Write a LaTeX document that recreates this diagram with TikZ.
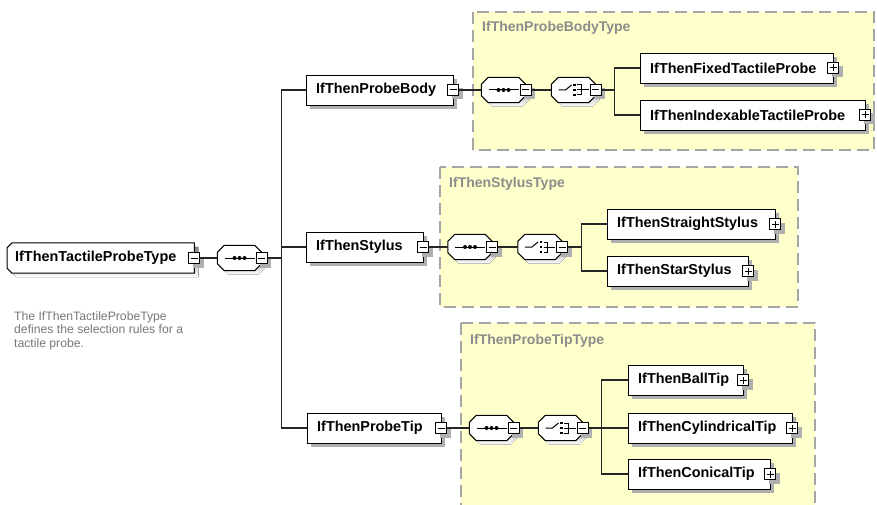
\documentclass[tikz,border=0pt]{standalone}
\usepackage{fontspec}
\setmainfont{Liberation Sans}
\usetikzlibrary{shadows,positioning}

\definecolor{grpfill}{RGB}{255,255,204}
\definecolor{grpline}{RGB}{165,165,165}
\definecolor{shade}{RGB}{175,175,175}
\definecolor{titlegrey}{RGB}{140,140,140}
\definecolor{docgrey}{RGB}{120,120,120}

\pgfdeclarelayer{paper}
\pgfdeclarelayer{grp}
\pgfdeclarelayer{shape}
\pgfsetlayers{paper,grp,shape,main}

% chamfered outline round a node: node, x shift, y shift, left chamfer, right chamfer
\newcommand\chamfpath[5]{%
  ([xshift=#2+#4,yshift=#3]#1.north west) -- ([xshift=#2-#5,yshift=#3]#1.north east)
  -- ([xshift=#2,yshift=#3-#5]#1.north east) -- ([xshift=#2,yshift=#3+#5]#1.south east)
  -- ([xshift=#2-#5,yshift=#3]#1.south east) -- ([xshift=#2+#4,yshift=#3]#1.south west)
  -- ([xshift=#2,yshift=#3+#4]#1.south west) -- ([xshift=#2,yshift=#3-#4]#1.north west) -- cycle}

% shadow, fill and border of a chamfered box
\newcommand\drawchamf[3]{%
  \begin{pgfonlayer}{shape}
    \fill[shade] \chamfpath{#1}{4pt}{-4pt}{#2}{#3};
    \filldraw[fill=white, draw=black, line width=1pt] \chamfpath{#1}{0pt}{0pt}{#2}{#3};
  \end{pgfonlayer}}

% compositor glyphs
\newcommand\seqglyph[1]{%
  \drawchamf{#1}{7pt}{7pt}
  \draw[line width=1pt] ([xshift=-15pt]#1.center) -- ([xshift=15pt]#1.center);
  \foreach \dx in {-5,0,5}
    \fill ([xshift=\dx pt]#1.center) circle (2pt);}
\newcommand\choiceglyph[1]{%
  \drawchamf{#1}{7pt}{7pt}
  \draw[line width=1pt] ([xshift=-15pt]#1.center) -- ([xshift=-8pt]#1.center)
    -- ([xshift=-2pt,yshift=5pt]#1.center);
  \foreach \dy in {-5,0,5}
    \fill ([xshift=-0.5pt,yshift=\dy pt-1.25pt]#1.center) rectangle ++(2.5pt,2.5pt);
  \draw[line width=1pt] ([xshift=3.5pt,yshift=5pt]#1.center) -- ++(4pt,0) -- ++(0,-10pt) -- ++(-4pt,0);
  \draw[line width=1pt] ([xshift=3.5pt]#1.center) -- ([xshift=15pt]#1.center);}

\tikzset{
  shadowed/.style={drop shadow={shadow xshift=4pt, shadow yshift=-4pt, fill=shade, opacity=1}},
  elem/.style={draw, fill=white, shadowed, minimum height=30, inner xsep=10, inner ysep=0,
    align=left, anchor=west, font=\fontsize{14.4}{16}\selectfont\bfseries},
  rootelem/.style={minimum height=30, inner xsep=8, inner ysep=0, align=left, anchor=west,
    font=\fontsize{14.4}{16}\selectfont\bfseries},
  btn/.style={draw, fill=white, shadowed, minimum size=11, inner sep=0, line width=1pt},
  minus/.style={btn, path picture={
    \draw ([xshift=2pt]path picture bounding box.west) -- ([xshift=-2pt]path picture bounding box.east);}},
  plus/.style={btn, path picture={
    \draw ([xshift=2pt]path picture bounding box.west) -- ([xshift=-2pt]path picture bounding box.east);
    \draw ([yshift=2pt]path picture bounding box.south) -- ([yshift=-2pt]path picture bounding box.north);}},
  octa/.style={minimum width=44, minimum height=25, inner sep=0},
  conn/.style={line width=1.3pt, draw=black!85},
  grp/.style={draw=grpline, fill=grpfill, line width=1.6pt, dash pattern=on 12pt off 6pt},
  grptitle/.style={anchor=west, text=titlegrey, font=\fontsize{14}{16}\selectfont\bfseries, inner sep=0},
}

\begin{document}
\begin{tikzpicture}[x=1pt, y=-1pt]
\begin{pgfonlayer}{paper}
  \fill[white] (0,0) rectangle (877,505);
\end{pgfonlayer}
\useasboundingbox (0,0) rectangle (877,505);

% type boxes
\begin{pgfonlayer}{grp}
  \draw[grp] (473,12) rectangle (874,150);
  \draw[grp] (440,167) rectangle (798,307);
  \draw[grp] (461,323) rectangle (815,515);
\end{pgfonlayer}
\node[grptitle] (bodyT) at (482,28) {IfThenProbeBodyType};
\node[grptitle] (stylT) at (449,184) {IfThenStylusType};
\node[grptitle] (tipT) at (470,341) {IfThenProbeTipType};

% root element
\node[rootelem, text width=171] (root) at (7,258) {IfThenTactileProbeType};
\drawchamf{root}{5pt}{0pt}
\node[minus] (rootm) at (root.east) {};
\node[octa] (rseq) at (239.5,258) {};
\seqglyph{rseq}
\node[minus] (rseqm) at (rseq.east) {};
\node[anchor=north west, align=left, inner sep=0, text=docgrey,
  font=\fontsize{12.2}{13.8}\selectfont] (doc) at (14,311)
  {The IfThenTactileProbeType\\defines the selection rules for a\\tactile probe.};

% children of the root sequence
\node[elem, text width=127] (body) at (306,90) {IfThenProbeBody};
\node[minus] (bodym) at (body.east) {};
\node[elem, text width=97] (styl) at (306,247) {IfThenStylus};
\node[minus] (stylm) at (styl.east) {};
\node[elem, text width=114] (tip) at (307,428) {IfThenProbeTip};
\node[minus] (tipm) at (tip.east) {};

% probe body type
\node[octa] (bseq) at (503.5,90) {};
\seqglyph{bseq}
\node[minus] (bseqm) at (bseq.east) {};
\node[octa] (bcho) at (573.5,90) {};
\choiceglyph{bcho}
\node[minus] (bchom) at (bcho.east) {};
\node[elem, text width=173] (fixed) at (640,68) {IfThenFixedTactileProbe};
\node[plus] (fixedp) at (fixed.east) {};
\node[elem, text width=205] (index) at (640,115) {IfThenIndexableTactileProbe};
\node[plus] (indexp) at (index.east) {};

% stylus type
\node[octa] (sseq) at (470,247) {};
\seqglyph{sseq}
\node[minus] (sseqm) at (sseq.east) {};
\node[octa] (scho) at (540,247) {};
\choiceglyph{scho}
\node[minus] (schom) at (scho.east) {};
\node[elem, text width=148] (straight) at (607,224) {IfThenStraightStylus};
\node[plus] (straightp) at (straight.east) {};
\node[elem, text width=121] (star) at (607,271) {IfThenStarStylus};
\node[plus] (starp) at (star.east) {};

% probe tip type
\node[octa] (tseq) at (491.5,428) {};
\seqglyph{tseq}
\node[minus] (tseqm) at (tseq.east) {};
\node[octa] (tcho) at (560.5,428) {};
\choiceglyph{tcho}
\node[minus] (tchom) at (tcho.east) {};
\node[elem, text width=95] (ball) at (628,380) {IfThenBallTip};
\node[plus] (ballp) at (ball.east) {};
\node[elem, text width=144] (cyl) at (628,428) {IfThenCylindricalTip};
\node[plus] (cylp) at (cyl.east) {};
\node[elem, text width=122] (con) at (628,474) {IfThenConicalTip};
\node[plus] (conp) at (con.east) {};

% bus points
\coordinate (rbus) at ([xshift=14pt]rseqm.east);
\coordinate (bbus) at ([xshift=13pt]bchom.east);
\coordinate (sbus) at ([xshift=13pt]schom.east);
\coordinate (tbus) at ([xshift=13pt]tchom.east);

% connectors
\draw[conn] (rootm) -- (rseq);
\draw[conn] (rseqm) -- (rbus);
\draw[conn] (rbus) |- (body.west);
\draw[conn] (rbus) |- (styl.west);
\draw[conn] (rbus) |- (tip.west);

\draw[conn] (bodym) -- (bseq);
\draw[conn] (bseqm) -- (bcho);
\draw[conn] (bchom) -- (bbus);
\draw[conn] (bbus) |- (fixed.west);
\draw[conn] (bbus) |- (index.west);

\draw[conn] (stylm) -- (sseq);
\draw[conn] (sseqm) -- (scho);
\draw[conn] (schom) -- (sbus);
\draw[conn] (sbus) |- (straight.west);
\draw[conn] (sbus) |- (star.west);

\draw[conn] (tipm) -- (tseq);
\draw[conn] (tseqm) -- (tcho);
\draw[conn] (tchom) -- (tbus);
\draw[conn] (tbus) |- (ball.west);
\draw[conn] (tbus) |- (cyl.west);
\draw[conn] (tbus) |- (con.west);
\end{tikzpicture}
\end{document}
